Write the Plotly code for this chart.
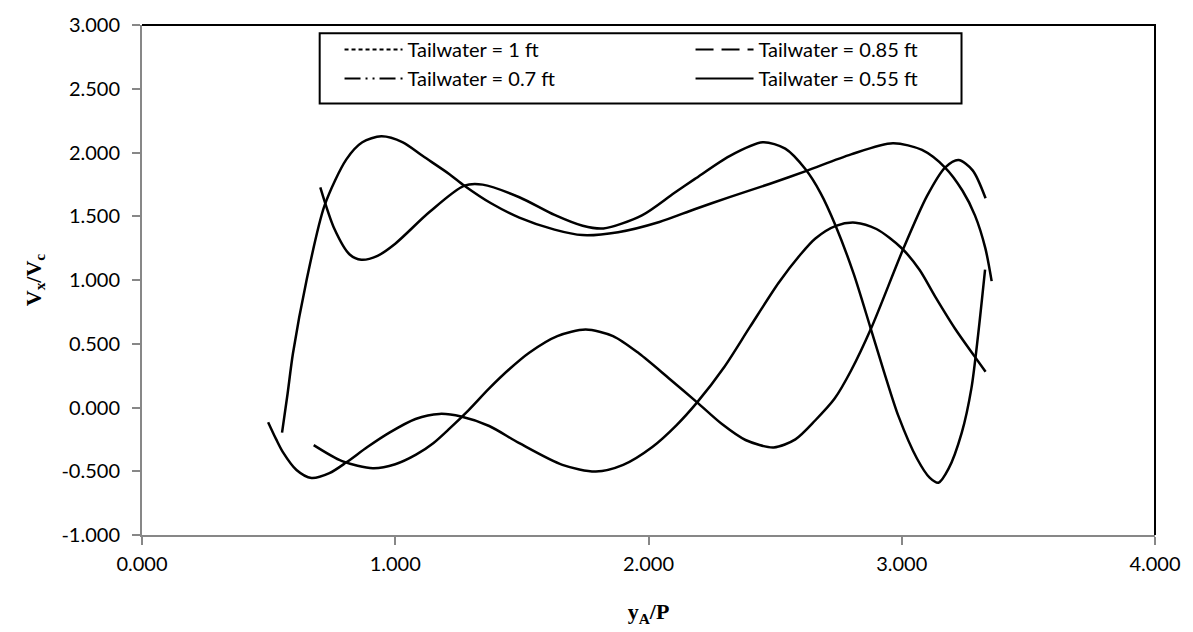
import plotly.graph_objects as go

# ---- series data (y_A/P vs Vx/Vc) ----
names = ["Tailwater = 1 ft", "Tailwater = 0.85 ft", "Tailwater = 0.7 ft", "Tailwater = 0.55 ft"]

x_tw1 = [0.553, 0.575, 0.596, 0.649, 0.721, 0.807, 0.870, 0.945, 1.030, 1.109, 1.214, 1.273,
         1.380, 1.490, 1.629, 1.739, 1.880, 2.043, 2.182, 2.320, 2.480, 2.624, 2.800, 2.965,
         3.080, 3.171, 3.240, 3.289, 3.330, 3.355]
y_tw1 = [-0.197, 0.110, 0.423, 0.991, 1.585, 1.946, 2.080, 2.127, 2.080, 1.972, 1.830, 1.740,
         1.600, 1.490, 1.395, 1.352, 1.375, 1.455, 1.555, 1.650, 1.755, 1.856, 1.985, 2.072,
         2.020, 1.882, 1.700, 1.507, 1.250, 0.991]

x_tw085 = [0.704, 0.760, 0.820, 0.866, 0.930, 1.000, 1.135, 1.273, 1.345, 1.490, 1.629, 1.740,
           1.822, 1.974, 2.100, 2.182, 2.320, 2.451, 2.540, 2.620, 2.680, 2.738, 2.810, 2.876,
           2.930, 2.987, 3.060, 3.110, 3.145, 3.185, 3.237, 3.275, 3.302, 3.329]
y_tw085 = [1.727, 1.400, 1.200, 1.159, 1.190, 1.285, 1.533, 1.740, 1.748, 1.649, 1.510, 1.425,
           1.404, 1.507, 1.680, 1.791, 1.972, 2.080, 2.030, 1.868, 1.680, 1.430, 1.050, 0.629,
           0.280, -0.068, -0.400, -0.550, -0.590, -0.480, -0.197, 0.150, 0.578, 1.081]

x_tw07 = [0.678, 0.790, 0.912, 1.000, 1.082, 1.150, 1.214, 1.290, 1.371, 1.450, 1.529, 1.640,
          1.752, 1.860, 1.963, 2.080, 2.192, 2.290, 2.383, 2.494, 2.580, 2.659, 2.735, 2.800,
          2.880, 3.007, 3.100, 3.171, 3.224, 3.280, 3.331]
y_tw07 = [-0.295, -0.420, -0.476, -0.445, -0.370, -0.280, -0.166, -0.020, 0.150, 0.300, 0.430, 0.560,
          0.611, 0.560, 0.423, 0.230, 0.040, -0.130, -0.255, -0.313, -0.250, -0.100, 0.070, 0.290,
          0.625, 1.249, 1.660, 1.882, 1.941, 1.860, 1.641]

x_tw055 = [0.498, 0.530, 0.557, 0.610, 0.669, 0.740, 0.807, 0.890, 0.977, 1.080, 1.174, 1.260,
           1.371, 1.490, 1.660, 1.792, 1.900, 2.015, 2.110, 2.192, 2.300, 2.400, 2.514,
           2.600, 2.659, 2.740, 2.817, 2.900, 3.000, 3.070, 3.132, 3.210, 3.289, 3.331]
y_tw055 = [-0.115, -0.250, -0.352, -0.490, -0.553, -0.515, -0.430, -0.310, -0.197, -0.090, -0.050, -0.070,
           -0.145, -0.280, -0.450, -0.502, -0.450, -0.310, -0.140, 0.040, 0.320, 0.630, 0.978,
           1.200, 1.326, 1.425, 1.450, 1.400, 1.249, 1.080, 0.870, 0.620, 0.397, 0.280]

xs_all = [x_tw1, x_tw085, x_tw07, x_tw055]
ys_all = [y_tw1, y_tw085, y_tw07, y_tw055]
legend_dash = ["4px,3px", "18px,8px", "16px,5px,2px,5px,2px,5px", "solid"]

x_ticks = [0, 1, 2, 3, 4]
y_ticks = [-1.0, -0.5, 0.0, 0.5, 1.0, 1.5, 2.0, 2.5, 3.0]

fig = go.Figure()
for name, xs, ys, dash in zip(names, xs_all, ys_all, legend_dash):
    # the curve itself
    fig.add_trace(go.Scatter(
        x=xs, y=ys, mode="lines", legendgroup=name, showlegend=False,
        line=dict(color="black", width=2.5, shape="spline", smoothing=0.8),
        hoverinfo="skip"))
    # legend key with its line pattern
    fig.add_trace(go.Scatter(
        x=[None], y=[None], mode="lines", name=name, legendgroup=name,
        line=dict(color="black", width=2, dash=dash)))

axis_common = dict(
    showline=True, linecolor="#878787", linewidth=2,
    ticks="outside", ticklen=8, tickwidth=1.5, tickcolor="#878787",
    showgrid=False, zeroline=False,
    tickfont=dict(family="Lato", size=20, color="black"),
)

fig.update_layout(
    width=1193, height=632,
    margin=dict(l=142, r=36, t=21, b=95),
    paper_bgcolor="white", plot_bgcolor="white",
    xaxis=dict(range=[0, 4], tickvals=x_ticks, ticktext=[f"{v:.3f}" for v in x_ticks],
               ticklabelstandoff=2,
               title=dict(text="<b>y<sub>A</sub>/P</b>", standoff=30,
                          font=dict(family="Liberation Serif", size=22, color="black")),
               **axis_common),
    yaxis=dict(range=[-1, 3], tickvals=y_ticks, ticktext=[f"{v:.3f}" for v in y_ticks],
               ticklabelstandoff=8,
               title=dict(text="<b>V<sub>x</sub>/V<sub>c</sub></b>", standoff=14,
                          font=dict(family="Liberation Serif", size=22, color="black")),
               **axis_common),
    legend=dict(
        orientation="h", x=0.195, y=0.99, xanchor="left", yanchor="top",
        bgcolor="rgba(0,0,0,0)", borderwidth=0,
        entrywidth=278, itemwidth=58, tracegroupgap=0,
        font=dict(family="Lato", size=20, color="black"),
    ),
    shapes=[
        # plot-area frame on the top and right sides
        dict(type="path", xref="paper", yref="paper",
             path="M 0,1 L 1,1 L 1,0", line=dict(color="black", width=2)),
        # legend frame
        dict(type="rect", xref="paper", yref="paper", layer="above",
             x0=0.1754, x1=0.809, y0=0.846, y1=0.984,
             line=dict(color="black", width=2), fillcolor="white"),
    ],
    showlegend=True,
)

fig.write_html("out.html")
